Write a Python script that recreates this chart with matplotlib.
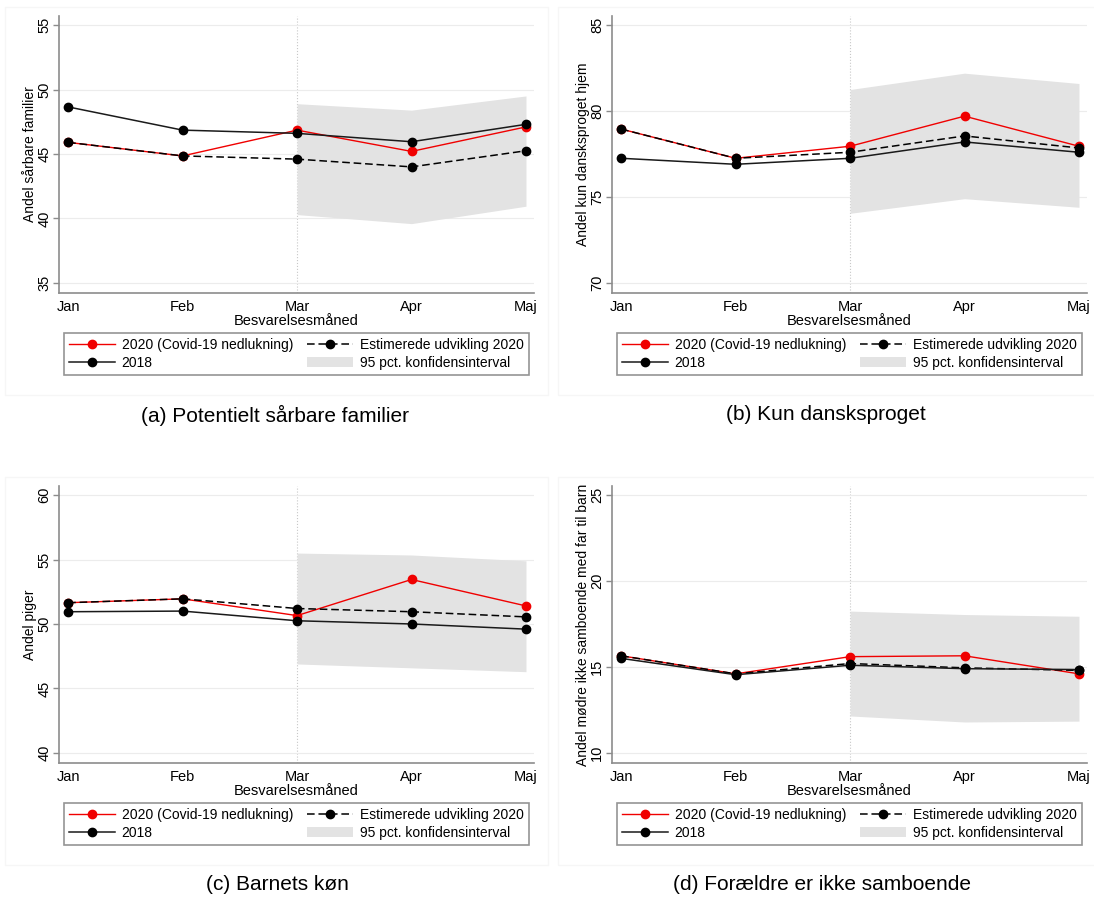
import matplotlib.pyplot as plt
from matplotlib.patches import Patch, Rectangle

plt.rcParams['font.family'] = ['Liberation Sans', 'DejaVu Sans']

months = ['Jan', 'Feb', 'Mar', 'Apr', 'Maj']
ci_months = ['Mar', 'Apr', 'Maj']

# (a) Potentielt saarbare familier
a_2020 = [45.9, 44.85, 46.85, 45.2, 47.1]
a_est = [45.9, 44.85, 44.6, 44.0, 45.25]
a_2018 = [48.65, 46.85, 46.6, 45.95, 47.3]
a_ci_lo = [40.3, 39.6, 40.95]
a_ci_hi = [48.9, 48.4, 49.5]

# (b) Kun dansksproget
b_2020 = [78.95, 77.25, 77.95, 79.7, 77.95]
b_est = [78.95, 77.25, 77.6, 78.55, 77.85]
b_2018 = [77.25, 76.9, 77.25, 78.2, 77.6]
b_ci_lo = [74.05, 74.9, 74.4]
b_ci_hi = [81.25, 82.2, 81.6]

# (c) Barnets koen
c_2020 = [51.65, 51.95, 50.65, 53.45, 51.4]
c_est = [51.65, 51.95, 51.2, 50.95, 50.55]
c_2018 = [50.95, 51.0, 50.25, 50.0, 49.6]
c_ci_lo = [46.9, 46.6, 46.3]
c_ci_hi = [55.5, 55.35, 54.9]

# (d) Foraeldre er ikke samboende
d_2020 = [15.65, 14.6, 15.6, 15.65, 14.6]
d_est = [15.65, 14.6, 15.2, 14.95, 14.8]
d_2018 = [15.5, 14.55, 15.1, 14.9, 14.85]
d_ci_lo = [12.15, 11.8, 11.85]
d_ci_hi = [18.25, 18.05, 17.95]

ylabels = ['Andel sårbare familier', 'Andel kun dansksproget hjem',
		   'Andel piger', 'Andel mødre ikke samboende med far til barn']
yticks = [[35, 40, 45, 50, 55], [70, 75, 80, 85], [40, 45, 50, 55, 60], [10, 15, 20, 25]]
captions = ['(a) Potentielt sårbare familier', '(b) Kun dansksproget',
			'(c) Barnets køn', '(d) Forældre er ikke samboende']

panels = [
	(a_2020, a_est, a_2018, a_ci_lo, a_ci_hi),
	(b_2020, b_est, b_2018, b_ci_lo, b_ci_hi),
	(c_2020, c_est, c_2018, c_ci_lo, c_ci_hi),
	(d_2020, d_est, d_2018, d_ci_lo, d_ci_hi),
]

W, H = 1094, 902
fig = plt.figure(figsize=(W / 100, H / 100), dpi=100)

red = '#f00000'
band = '#e3e3e3'
spine = '#8c8c8c'

# pixel positions of each panel: (axes left, axes top)
origins = [(59, 16), (612, 16), (59, 486), (612, 486)]
ax_w, ax_h = 475, 277
cap_x = [275, 826, 277, 822]

x = list(range(len(months)))
x_ci = [months.index(m) for m in ci_months]

for i, (s2020, sest, s2018, lo, hi) in enumerate(panels):
	left, top = origins[i]

	# faint frame round the graph region
	fig.add_artist(Rectangle(((left - 54) / W, 1 - (top + 379) / H), 543 / W, 388 / H,
							 transform=fig.transFigure, fill=False, edgecolor='#f6f6f6', lw=1))

	ax = fig.add_axes([left / W, 1 - (top + ax_h) / H, ax_w / W, ax_h / H])

	ax.fill_between(x_ci, lo, hi, color=band, lw=0, zorder=1)
	ax.axvline(2, color='#c8c8c8', lw=0.8, ls=':', zorder=0.5)

	l1, = ax.plot(x, s2020, color=red, lw=1.0, marker='o', ms=6, zorder=3)
	l2, = ax.plot(x, sest, color='black', lw=1.1, dashes=(5, 2.5), marker='o', ms=6, zorder=4)
	l3, = ax.plot(x, s2018, color='#1a1a1a', lw=1.1, marker='o', ms=6,
				  markerfacecolor='black', markeredgecolor='black', zorder=5)

	yt = yticks[i]
	rng = yt[-1] - yt[0]
	ax.set_ylim(yt[0] - 0.039 * rng, yt[-1] + 0.035 * rng)
	ax.set_xlim(-0.08, 4.07)
	ax.set_yticks(yt)
	ax.set_yticklabels([str(v) for v in yt], rotation=90, va='center', fontsize=10.5)
	ax.set_xticks(x)
	ax.set_xticklabels(months, fontsize=10.5)
	ax.tick_params(axis='x', length=0, pad=5)
	ax.tick_params(axis='y', length=4, width=1, color=spine, pad=1.5)

	ax.grid(axis='y', color='#ececec', lw=0.8, zorder=0)
	ax.set_axisbelow(True)
	for side in ['top', 'right']:
		ax.spines[side].set_visible(False)
	for side in ['left', 'bottom']:
		ax.spines[side].set_color(spine)
		ax.spines[side].set_linewidth(1.2)

	ax.set_ylabel(ylabels[i], fontsize=10, labelpad=0)
	ax.set_xlabel('Besvarelsesmåned', fontsize=10.5, labelpad=0)

	ci_patch = Patch(facecolor=band, edgecolor='none')
	leg = ax.legend([l1, l3, l2, ci_patch],
					['2020 (Covid-19 nedlukning)', '2018', 'Estimerede udvikling 2020', '95 pct. konfidensinterval'],
					ncol=2, loc='upper left', mode='expand',
					bbox_to_anchor=((left + 5) / W, 1 - (top + 317) / H, 465 / W, 0),
					bbox_transform=fig.transFigure, borderaxespad=0,
					fontsize=10, handlelength=3.3, handletextpad=0.5, columnspacing=0.8,
					labelspacing=0.3, borderpad=0.35, fancybox=False, frameon=True)
	leg.get_frame().set_edgecolor('#7a7a7a')
	leg.get_frame().set_linewidth(1.2)

	fig.text(cap_x[i] / W, 1 - (top + 399) / H, captions[i], ha='center', va='center', fontsize=15)

plt.savefig('out.png', dpi=100)
